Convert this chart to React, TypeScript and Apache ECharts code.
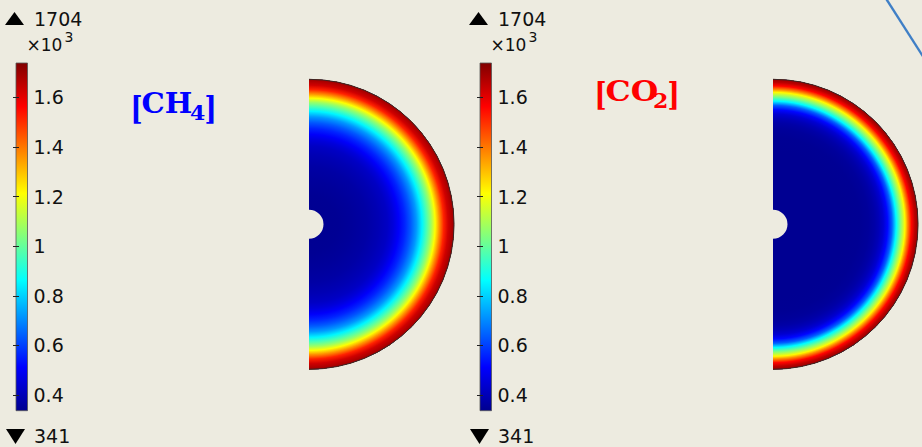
import React, { useEffect, useRef } from 'react';
import * as echarts from 'echarts';

// colour bar range (data units) and its tick values
const colorRange = [337, 1739];
const barTicks = [400, 600, 800, 1000, 1200, 1400, 1600];
const rangeMax = 1704;
const rangeMin = 341;

// radial profile of [CH4] (normalised radius, value)
const ch4Radius = [0.1, 0.2, 0.3, 0.4, 0.48, 0.54, 0.58, 0.62, 0.66, 0.7, 0.74, 0.78, 0.81, 0.84, 0.87, 0.9, 0.93, 0.96, 1.0];
const ch4Value = [341, 345, 355, 372, 395, 420, 455, 505, 560, 630, 720, 850, 960, 1070, 1210, 1370, 1520, 1630, 1700];

// radial profile of [CO2]
const co2Radius = [0.1, 0.3, 0.5, 0.6, 0.66, 0.7, 0.73, 0.76, 0.79, 0.82, 0.85, 0.88, 0.91, 0.93, 0.955, 0.98, 1.0];
const co2Value = [341, 341, 342, 345, 355, 375, 400, 440, 520, 640, 860, 1040, 1220, 1380, 1560, 1660, 1704];

const panels = [
  { name: 'CH', sub: '4', color: '#0000ff', radius: ch4Radius, value: ch4Value },
  { name: 'CO', sub: '2', color: '#ff0000', radius: co2Radius, value: co2Value },
];

const JET: [number, number[]][] = [
  [0, [0, 0, 143]],
  [0.125, [0, 0, 255]],
  [0.375, [0, 255, 255]],
  [0.625, [255, 255, 0]],
  [0.875, [255, 0, 0]],
  [1, [128, 0, 0]],
];

function jet(v: number): string {
  let t = (v - colorRange[0]) / (colorRange[1] - colorRange[0]);
  t = Math.max(0, Math.min(1, t));
  for (let k = 0; k < JET.length - 1; k++) {
    const [a, ca] = JET[k];
    const [b, cb] = JET[k + 1];
    if (t <= b) {
      const f = (t - a) / (b - a);
      const c = ca.map((x, j) => Math.round(x + (cb[j] - x) * f));
      return `rgb(${c[0]},${c[1]},${c[2]})`;
    }
  }
  return 'rgb(128,0,0)';
}

const BG = '#edebe0';
const TXT = '#111111';
const SANS = 'DejaVu Sans';
const SERIF = 'DejaVu Serif';
const OFF = [0, 464];

export default function App() {
  const ref = useRef<HTMLDivElement>(null);
  useEffect(() => {
    const chart = echarts.init(ref.current!, null, { renderer: 'svg' });

    const grid: any[] = [];
    const xAxis: any[] = [];
    const yAxis: any[] = [];
    const polar: any[] = [];
    const angleAxis: any[] = [];
    const radiusAxis: any[] = [];
    const series: any[] = [];
    const graphic: any[] = [];

    panels.forEach((p, pi) => {
      const off = OFF[pi];
      grid.push({ left: 16 + off, top: 63, width: 11.5, height: 347.7 });
      xAxis.push({ gridIndex: pi, type: 'value', min: 0, max: 1, show: false });
      const yBase = {
        gridIndex: pi,
        type: 'value',
        min: colorRange[0],
        max: colorRange[1],
        z: 5,
        axisLine: { show: false },
        splitLine: { show: false },
      };
      yAxis.push({
        ...yBase,
        position: 'right',
        axisTick: { show: true, inside: true, length: 3, lineStyle: { color: '#222' }, customValues: barTicks },
        axisLabel: {
          customValues: barTicks,
          formatter: (v: number) => String(v / 1000),
          margin: 6,
          color: TXT,
          fontSize: 19,
          fontFamily: SANS,
        },
      });
      yAxis.push({
        ...yBase,
        position: 'left',
        axisTick: { show: true, inside: true, length: 3, lineStyle: { color: '#222' }, customValues: barTicks },
        axisLabel: { show: false },
      });
      const stops = JET.map(([o, c]) => ({ offset: 1 - o, color: `rgb(${c[0]},${c[1]},${c[2]})` })).reverse();
      series.push({
        type: 'custom',
        coordinateSystem: 'cartesian2d',
        xAxisIndex: pi,
        yAxisIndex: pi * 2,
        z: 1,
        silent: true,
        data: [[0, colorRange[0], 1, colorRange[1]]],
        renderItem: (params: any, api: any) => {
          const a = api.coord([api.value(0), api.value(1)]);
          const b = api.coord([api.value(2), api.value(3)]);
          return {
            type: 'rect',
            shape: { x: a[0], y: b[1], width: b[0] - a[0], height: a[1] - b[1] },
            style: {
              fill: { type: 'linear', x: 0, y: 0, x2: 0, y2: 1, colorStops: stops },
              stroke: '#555',
              lineWidth: 0.8,
            },
          };
        },
      });

      polar.push({ center: [309 + off, 224.3], radius: 145 });
      angleAxis.push({ polarIndex: pi, type: 'value', min: 0, max: 360, startAngle: 90, clockwise: true, show: false });
      radiusAxis.push({ polarIndex: pi, type: 'value', min: 0, max: 1, show: false });
      const radii = p.radius;
      const vals = p.value;
      series.push({
        type: 'custom',
        coordinateSystem: 'polar',
        polarIndex: pi,
        silent: true,
        encode: { radius: 0, angle: 1 },
        data: radii.map((r, i) => [r, 90, vals[i]]),
        renderItem: (params: any, api: any) => {
          const i = params.dataIndex;
          const c = api.coord([0, 90]);
          const cx = c[0];
          const cy = c[1];
          const rad = (r: number) => {
            const q = api.coord([r, 90]);
            return Math.hypot(q[0] - cx, q[1] - cy);
          };
          const R = rad(1);
          const r0 = rad(radii[i]);
          if (i === radii.length - 1) {
            return {
              type: 'arc',
              z2: 100,
              shape: { cx, cy, r: r0, startAngle: -Math.PI / 2, endAngle: Math.PI / 2, clockwise: true },
              style: { stroke: '#3a2626', lineWidth: 1, fill: null },
            };
          }
          const r1 = rad(radii[i + 1]);
          return {
            type: 'sector',
            z2: i,
            shape: { cx, cy, r0, r: R, startAngle: -Math.PI / 2, endAngle: Math.PI / 2, clockwise: true },
            style: {
              fill: {
                type: 'radial',
                x: cx,
                y: cy,
                r: R,
                global: true,
                colorStops: [
                  { offset: r0 / R, color: jet(vals[i]) },
                  { offset: r1 / R, color: jet(vals[i + 1]) },
                ],
              },
            },
          };
        },
      });

      // range annotations
      graphic.push(
        { type: 'polygon', shape: { points: [[5 + off, 25], [24 + off, 25], [14.5 + off, 12]] }, style: { fill: '#000' } },
        { type: 'text', x: 34 + off, y: 18.5, style: { text: String(rangeMax), font: `19px "${SANS}"`, fill: TXT, verticalAlign: 'middle' } },
        { type: 'text', x: 26.5 + off, y: 45, style: { text: '×10', font: `17px "${SANS}"`, fill: TXT, verticalAlign: 'middle' } },
        { type: 'text', x: 64.5 + off, y: 37, style: { text: '3', font: `14px "${SANS}"`, fill: TXT, verticalAlign: 'middle' } },
        { type: 'polygon', shape: { points: [[6 + off, 429], [25 + off, 429], [15.5 + off, 444]] }, style: { fill: '#000' } },
        { type: 'text', x: 34 + off, y: 436, style: { text: String(rangeMin), font: `19px "${SANS}"`, fill: TXT, verticalAlign: 'middle' } },
      );
    });

    // species labels: [ , name, subscript, ]
    const lab = [
      { bx: 130.5, by: 108, nx: 141.5, ny: 104, nsx: 1.08, sx: 190, sy: 113, ex: 204.5 },
      { bx: 594.5, by: 94, nx: 605.5, ny: 91, nsx: 1.17, sx: 653, sy: 100.5, ex: 667.5 },
    ];
    panels.forEach((p, pi) => {
      const L = lab[pi];
      const big = `bold 32px "${SERIF}"`;
      graphic.push(
        { type: 'text', x: L.bx, y: L.by, scaleX: 0.8, style: { text: '[', font: big, fill: p.color, verticalAlign: 'middle' } },
        { type: 'text', x: L.nx, y: L.ny, scaleX: L.nsx, style: { text: p.name, font: `bold 27px "${SERIF}"`, fill: p.color, verticalAlign: 'middle' } },
        { type: 'text', x: L.sx, y: L.sy, scaleX: 1.1, style: { text: p.sub, font: `bold 20px "${SERIF}"`, fill: p.color, verticalAlign: 'middle' } },
        { type: 'text', x: L.ex, y: L.by, scaleX: 0.8, style: { text: ']', font: big, fill: p.color, verticalAlign: 'middle' } },
      );
    });

    // blue line at the top right corner
    graphic.push({ type: 'line', shape: { x1: 885, y1: -3, x2: 924, y2: 58 }, style: { stroke: '#3f7fc6', lineWidth: 2.4 } });

    chart.setOption({
      animation: false,
      backgroundColor: BG,
      grid,
      xAxis,
      yAxis,
      polar,
      angleAxis,
      radiusAxis,
      series,
      graphic,
    });
    return () => chart.dispose();
  }, []);
  return <div ref={ref} style={{ position: 'absolute', left: 0, top: 0, width: 922, height: 447 }} />;
}
